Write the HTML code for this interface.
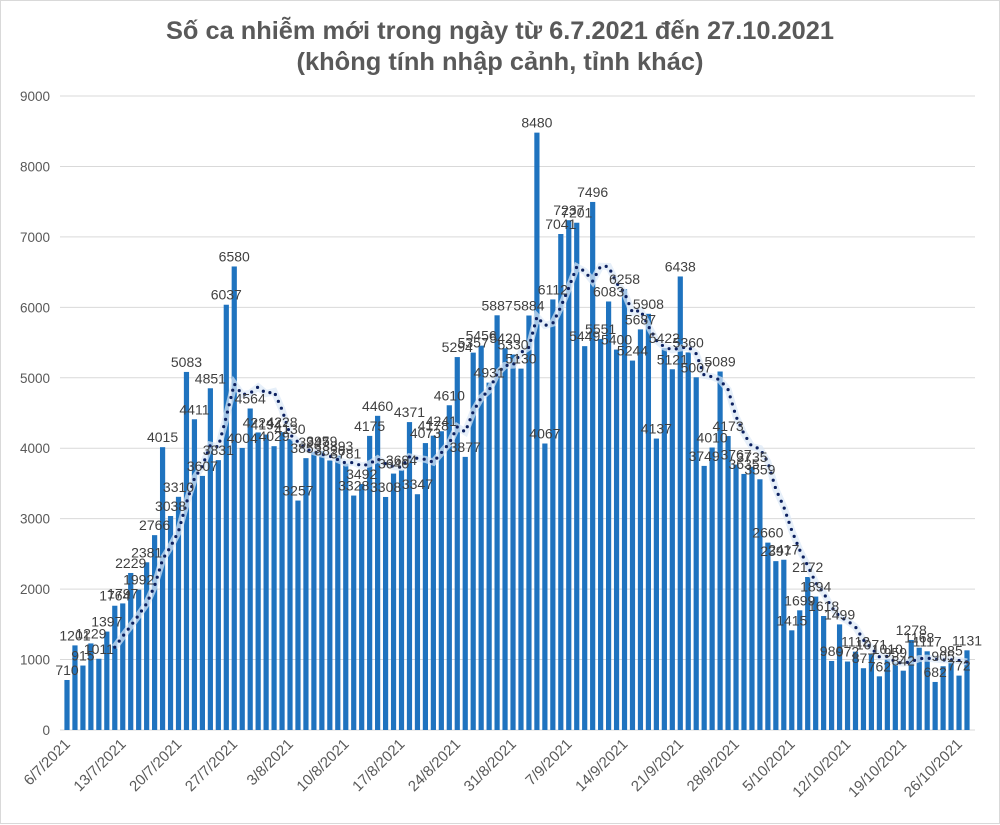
<!DOCTYPE html>
<html><head><meta charset="utf-8"><style>
html,body{margin:0;padding:0;background:#fff;}
svg{display:block;font-family:"Liberation Sans",Arial,sans-serif;}
</style></head><body>
<svg id="c" width="1000" height="825" viewBox="0 0 1000 825" xmlns="http://www.w3.org/2000/svg">
<rect x="0.5" y="0.5" width="999" height="823" fill="#fff" stroke="#d9d9d9"/>
<text x="500" y="39" text-anchor="middle" font-size="25" font-weight="bold" fill="#595959" textLength="668" lengthAdjust="spacingAndGlyphs">Số ca nhiễm mới trong ngày từ 6.7.2021 đến 27.10.2021</text>
<text x="500" y="70" text-anchor="middle" font-size="25" font-weight="bold" fill="#595959" textLength="407" lengthAdjust="spacingAndGlyphs">(không tính nhập cảnh, tỉnh khác)</text>
<g id="g"></g>
</svg>
<script>
var v=[710,1201,915,1229,1011,1397,1764,1797,2229,1992,2381,2766,4015,3038,3310,5083,4411,3607,4851,3831,6037,6580,4004,4564,4224,4194,4029,4228,4130,3257,3859,3947,3959,3826,3893,3781,3328,3492,4175,4460,3308,3640,3694,4371,3347,4073,4178,4241,4610,5294,3877,5357,5456,4931,5887,5420,5330,5130,5884,8480,4067,6112,7041,7237,7201,5449,7496,5551,6083,5400,6258,5244,5687,5908,4137,5422,5121,6438,5360,5007,3749,4010,5089,4173,3767,3635,3735,3559,2660,2397,2417,1415,1699,2172,1894,1618,980,1499,972,1112,877,1071,762,1010,959,842,1278,1168,1117,682,905,985,772,1131];
var dates=["6/7/2021","13/7/2021","20/7/2021","27/7/2021","3/8/2021","10/8/2021","17/8/2021","24/8/2021","31/8/2021","7/9/2021","14/9/2021","21/9/2021","28/9/2021","5/10/2021","12/10/2021","19/10/2021","26/10/2021"];
var x0=67,s=(967-67)/(v.length-1),y0=730,k=(730-96)/9000;
function X(i){return x0+i*s}function Y(val){return y0-val*k}
var h='';
for(var t=0;t<=9000;t+=1000){var y=Y(t);h+='<line x1="60" x2="975" y1="'+y+'" y2="'+y+'" stroke="#d9d9d9"/>';h+='<text x="50" y="'+(y+5)+'" text-anchor="end" font-size="13.5" fill="#595959">'+t+'</text>';}
for(var i=0;i<v.length;i++){h+='<rect x="'+(X(i)-2.6)+'" y="'+Y(v[i])+'" width="5.2" height="'+(v[i]*k)+'" fill="#1f73bf"/>';}
var pts=[];for(var i=6;i<v.length;i++){var a=0;for(var j=i-6;j<=i;j++)a+=v[j];pts.push([X(i),Y(a/7)]);}
var d='M'+pts.map(function(p){return p[0]+' '+p[1]}).join(' L');
h+='<path d="'+d+'" fill="none" stroke="#dbe8f6" stroke-width="7" opacity="0.7"/>';
h+='<path d="'+d+'" fill="none" stroke="#0d2160" stroke-width="3.2" stroke-linecap="round" stroke-dasharray="0 7.5"/>';
for(var i=0;i<v.length;i++){h+='<text x="'+X(i)+'" y="'+(Y(v[i])-5)+'" text-anchor="middle" font-size="14" fill="#404040">'+v[i]+'</text>';}
for(var n=0;n<dates.length;n++){var x=X(n*7)+4,y=745;h+='<text transform="translate('+x+','+y+') rotate(-45)" text-anchor="end" font-size="15" fill="#595959">'+dates[n]+'</text>';}
document.getElementById('g').innerHTML=h;
</script>
</body></html>
